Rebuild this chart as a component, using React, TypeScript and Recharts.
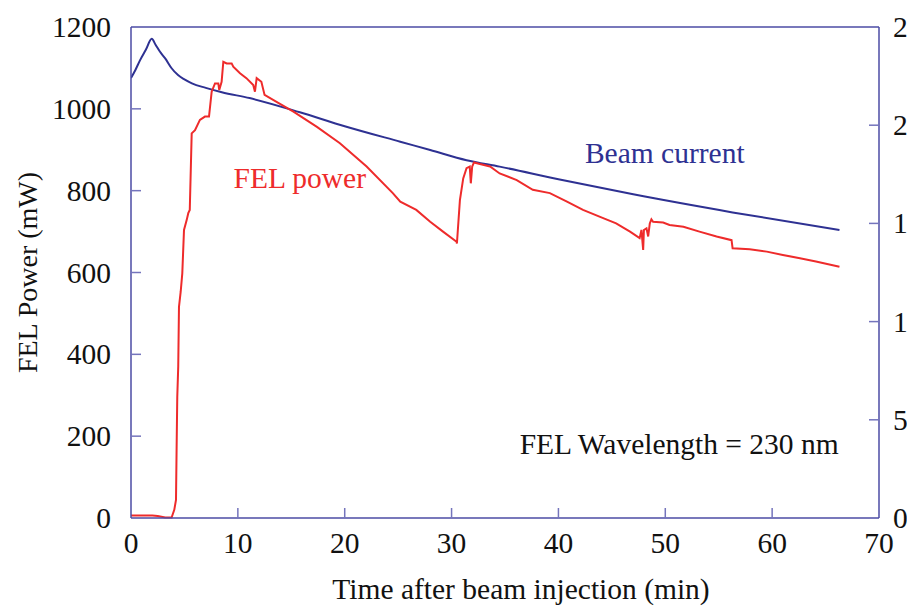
import {
  LineChart, Line,
  XAxis, YAxis,
  ReferenceDot,
} from 'recharts'

// FEL power (mW) vs time after injection (min)
const powerTime = [
  0, 1, 2, 2.5, 3.2, 3.8, 4.05, 4.21, 4.27, 4.33, 4.42, 4.49, 4.65, 4.8, 4.96,
  5.21, 5.36, 5.5, 5.68, 5.99, 6.45, 6.92, 7.3, 7.55, 7.86, 8.17, 8.26, 8.48,
  8.64, 8.95, 9.42, 9.57, 10.2, 10.8, 11.44, 11.6, 11.76, 12.2, 12.5, 13.9,
  15.2, 17.4, 19.55, 22.05, 24.5, 25.2, 26.7, 28, 29.2, 30.47, 30.5, 30.78,
  31.09, 31.4, 31.7, 31.8, 31.93, 32.1, 32.65, 33.6, 34.5, 36.1, 37.6, 39.2,
  40.8, 42.3, 43.9, 45.4, 46.7, 47.6, 47.77, 47.93, 48, 48.24, 48.4, 48.55,
  48.7, 48.86, 49.8, 50.4, 51.7, 53.2, 54.8, 56.2, 56.3, 57.9, 59.5, 61,
  62.6, 64.1, 66.3,
]
const powerValue = [
  6, 6, 6, 5, 1, 1, 20, 44, 174, 296, 370, 516, 553, 598, 704,
  728, 745, 753, 940, 948, 973, 981, 981, 1042, 1062, 1062, 1046, 1066,
  1115, 1111, 1111, 1103, 1087, 1075, 1058, 1042, 1075, 1066, 1034, 1013,
  993, 956, 916, 859, 794, 773, 753, 724, 700, 675, 671, 777,
  830, 855, 859, 818, 859, 869, 865, 859, 842, 826, 802, 794,
  773, 753, 736, 720, 700, 684, 704, 655, 704, 708, 688, 720,
  730, 724, 722, 716, 712, 700, 688, 679, 659, 657, 651, 643,
  635, 627, 614,
]

// Beam current (mA)
const beamTime = [
  0, 0.4, 0.84, 1.4, 1.94, 2.3, 2.7, 3.2, 3.8, 4.4, 5, 5.7, 7, 8.5, 11.1,
  15.8, 20, 25.2, 28, 31.4, 34.5, 40, 47, 56.3, 66.3,
]
const beamValue = [
  224, 228, 233, 238.5, 244, 241, 237.5, 234, 229, 225.5, 223.3, 221.3, 219, 216.8, 213.8,
  206.6, 199.5, 191.6, 187.4, 182.2, 178.9, 172.5, 164.8, 155.6, 146.6,
]

const xTicks = [0, 10, 20, 30, 40, 50, 60, 70]
const powerTicks = [0, 200, 400, 600, 800, 1000, 1200]
const currentTicks = [0, 50, 100, 150, 200, 250]

const powerData = powerTime.map((t, i) => ({ t, power: powerValue[i] }))
const beamData = beamTime.map((t, i) => ({ t, current: beamValue[i] }))

const AXIS = '#4b4ba5'
const TICK = '#7474bc'
const RED = '#ee2b2b'
const BLUE = '#2e3192'
const FONT = 29.5
const SERIF = 'Liberation Serif, Times New Roman, Times, DejaVu Serif, serif'

const BottomTick = ({ x, y, payload }: any) => (
  <g>
    {payload.value !== 0 && payload.value !== 70 && (
      <line x1={x} x2={x} y1={y} y2={y - 10} stroke={TICK} strokeWidth={1.5} />
    )}
    <text x={x} y={y + 35} textAnchor="middle" fill="#111" style={{ fontFamily: SERIF, fontSize: FONT }}>
      {payload.value}
    </text>
  </g>
)

const TopTick = ({ x, y, payload }: any) =>
  payload.value !== 0 && payload.value !== 70 ? (
    <line x1={x} x2={x} y1={y} y2={y + 10} stroke={TICK} strokeWidth={1.5} />
  ) : <g />

const LeftTick = ({ x, y, payload }: any) => (
  <g>
    {payload.value !== 0 && payload.value !== 1200 && (
      <line x1={x} x2={x + 10} y1={y} y2={y} stroke={TICK} strokeWidth={1.5} />
    )}
    <text x={x - 20} y={y + 10} textAnchor="end" fill="#111" style={{ fontFamily: SERIF, fontSize: FONT }}>
      {payload.value}
    </text>
  </g>
)

const RightTick = ({ x, y, payload }: any) => (
  <g>
    {payload.value !== 0 && payload.value !== 250 && (
      <line x1={x} x2={x - 10} y1={y} y2={y} stroke={TICK} strokeWidth={1.5} />
    )}
    <text x={x + 14} y={y + 10} textAnchor="start" fill="#111" style={{ fontFamily: SERIF, fontSize: FONT }}>
      {payload.value}
    </text>
  </g>
)

const XTitle = ({ viewBox }: any) => (
  <text
    x={viewBox.x + viewBox.width / 2 + 16}
    y={viewBox.y + viewBox.height - 9}
    textAnchor="middle"
    fill="#111"
    style={{ fontFamily: SERIF, fontSize: FONT }}
  >
    Time after beam injection (min)
  </text>
)

export default function App() {
  return (
    <div style={{
      position: 'absolute', left: 0, top: 0, width: 907, height: 608,
      overflow: 'hidden', background: '#fff', fontFamily: SERIF,
    }}>
      <LineChart
        width={907}
        height={608}
        margin={{ top: 0, right: 0, bottom: 0, left: 0 }}
        style={{ fontFamily: SERIF }}
      >
        <XAxis
          xAxisId="bottom"
          dataKey="t"
          type="number"
          domain={[0, 70]}
          ticks={xTicks}
          height={90}
          tickSize={0}
          tickMargin={0}
          tickLine={false}
          tick={BottomTick}
          axisLine={{ stroke: AXIS, strokeWidth: 1.5 }}
          allowDataOverflow
          label={{ content: XTitle }}
        />
        <XAxis
          xAxisId="top"
          orientation="top"
          dataKey="t"
          type="number"
          domain={[0, 70]}
          ticks={xTicks}
          height={27}
          tickSize={0}
          tickMargin={0}
          tickLine={false}
          tick={TopTick}
          axisLine={{ stroke: AXIS, strokeWidth: 1.5 }}
        />
        <YAxis
          yAxisId="left"
          type="number"
          domain={[0, 1200]}
          ticks={powerTicks}
          width={131}
          tickSize={0}
          tickMargin={0}
          tickLine={false}
          tick={LeftTick}
          axisLine={{ stroke: AXIS, strokeWidth: 1.5 }}
          label={{ value: 'FEL Power (mW)', angle: -90, position: 'insideLeft', offset: 27, fill: '#111', style: { textAnchor: 'middle', fontFamily: SERIF, fontSize: 28 } }}
        />
        <YAxis
          yAxisId="right"
          orientation="right"
          type="number"
          domain={[0, 250]}
          ticks={currentTicks}
          width={28}
          tickSize={0}
          tickMargin={0}
          tickLine={false}
          tick={RightTick}
          axisLine={{ stroke: AXIS, strokeWidth: 1.5 }}
        />
        <Line
          xAxisId="bottom"
          yAxisId="right"
          data={beamData}
          dataKey="current"
          type="monotone"
          stroke={BLUE}
          strokeWidth={2}
          dot={false}
          isAnimationActive={false}
        />
        <Line
          xAxisId="bottom"
          yAxisId="left"
          data={powerData}
          dataKey="power"
          type="linear"
          stroke={RED}
          strokeWidth={2}
          dot={false}
          isAnimationActive={false}
        />
        <ReferenceDot
          xAxisId="bottom" yAxisId="left" x={15.8} y={831} r={0}
          label={{ value: 'FEL power', position: 'center', fill: RED, style: { fontFamily: SERIF, fontSize: FONT } }}
        />
        <ReferenceDot
          xAxisId="bottom" yAxisId="left" x={49.95} y={894} r={0}
          label={{ value: 'Beam current', position: 'center', fill: BLUE, style: { fontFamily: SERIF, fontSize: FONT } }}
        />
        <ReferenceDot
          xAxisId="bottom" yAxisId="left" x={51.3} y={183} r={0}
          label={{ value: 'FEL Wavelength = 230 nm', position: 'center', fill: '#111', style: { fontFamily: SERIF, fontSize: FONT } }}
        />
      </LineChart>
    </div>
  )
}
